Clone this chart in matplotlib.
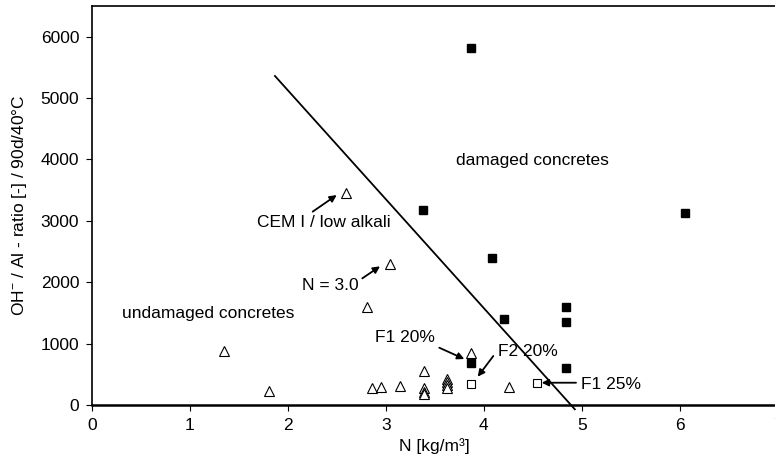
import matplotlib
matplotlib.use("Agg")
import matplotlib.pyplot as plt

plt.rcParams['font.family'] = ['Liberation Sans', 'DejaVu Sans']
plt.rcParams['mathtext.fontset'] = 'custom'
plt.rcParams['mathtext.rm'] = 'Liberation Sans'
plt.rcParams['mathtext.it'] = 'Liberation Sans'

# Data
tri_x = [1.35, 1.81, 2.59, 2.81, 2.86, 2.95, 3.04, 3.15, 3.39, 3.39, 3.39, 3.39,
         3.63, 3.63, 3.63, 3.63, 3.87, 4.26]
tri_y = [880, 230, 3460, 1600, 280, 300, 2290, 310, 560, 270, 210, 180,
         430, 380, 330, 280, 850, 300]
sq_x = [3.87, 3.38, 4.08, 4.21, 4.84, 4.84, 4.84, 3.87, 6.05]
sq_y = [5810, 3170, 2400, 1400, 1600, 1350, 600, 680, 3130]
osq_x = [3.87, 4.54]
osq_y = [350, 355]
line_x = [1.87, 4.93]
line_y = [5360, -70]
xticks = [0, 1, 2, 3, 4, 5, 6, 7]
yticks = [0, 1000, 2000, 3000, 4000, 5000, 6000]

W, H = 775, 469
fig = plt.figure(figsize=(W / 100, H / 100), dpi=100)
left_px, right_px, top_px, bot_px = 91.7, 777.7, 6, 405
ax = fig.add_axes([left_px / W, (H - bot_px) / H, (right_px - left_px) / W, (bot_px - top_px) / H])
ax.set_xlim(0, 7)
ax.set_ylim(0, 6500)

ax.plot(line_x, line_y, color='black', lw=1.3, clip_on=False, zorder=2)
ax.plot(tri_x, tri_y, ls='none', marker='^', ms=6.5, mfc='white', mec='black', mew=0.8, zorder=3)
ax.plot(sq_x, sq_y, ls='none', marker='s', ms=5.5, mfc='black', mec='black', zorder=3)
ax.plot(osq_x, osq_y, ls='none', marker='s', ms=5.5, mfc='white', mec='black', mew=0.8, zorder=3)

ax.set_xticks(xticks)
ax.set_yticks(yticks)
ax.tick_params(direction='out', length=4, width=0.8, labelsize=12.5, colors='black', pad=5)
ax.tick_params(axis='x', pad=5)
for s in ['top', 'left']:
    ax.spines[s].set_linewidth(1.2)
ax.spines['bottom'].set_linewidth(1.8)
ax.spines['right'].set_linewidth(1.2)

ax.set_xlabel('N [kg/m³]', fontsize=12.5, labelpad=4)
ax.set_ylabel(r'OH$^{-}$ / Al - ratio [-] / 90d/40°C', fontsize=12.5, labelpad=8)

fs = 12.5
ax.text(4.50, 3990, 'damaged concretes', ha='center', va='center', fontsize=fs)
ax.text(1.19, 1493, 'undamaged concretes', ha='center', va='center', fontsize=fs)

ap = dict(arrowstyle='-|>', color='black', lw=1.3, mutation_scale=10, shrinkA=0, shrinkB=0)
ax.text(2.37, 2969, 'CEM I / low alkali', ha='center', va='center', fontsize=fs)
ax.annotate('', xy=(2.50, 3420), xytext=(2.255, 3150), arrowprops=ap)
ax.text(2.43, 1954, 'N = 3.0', ha='center', va='center', fontsize=fs)
ax.annotate('', xy=(2.942, 2259), xytext=(2.761, 2063), arrowprops=ap)
ax.text(3.197, 1103, 'F1 20%', ha='center', va='center', fontsize=fs)
ax.annotate('', xy=(3.802, 749), xytext=(3.547, 933), arrowprops=ap)
ax.text(4.455, 868, 'F2 20%', ha='center', va='center', fontsize=fs)
ax.annotate('', xy=(3.939, 461), xytext=(4.098, 798), arrowprops=ap)
ax.text(4.99, 342, 'F1 25%', ha='left', va='center', fontsize=fs)
ax.annotate('', xy=(4.592, 363), xytext=(4.942, 363), arrowprops=ap)

fig.savefig('out.png', dpi=100)
